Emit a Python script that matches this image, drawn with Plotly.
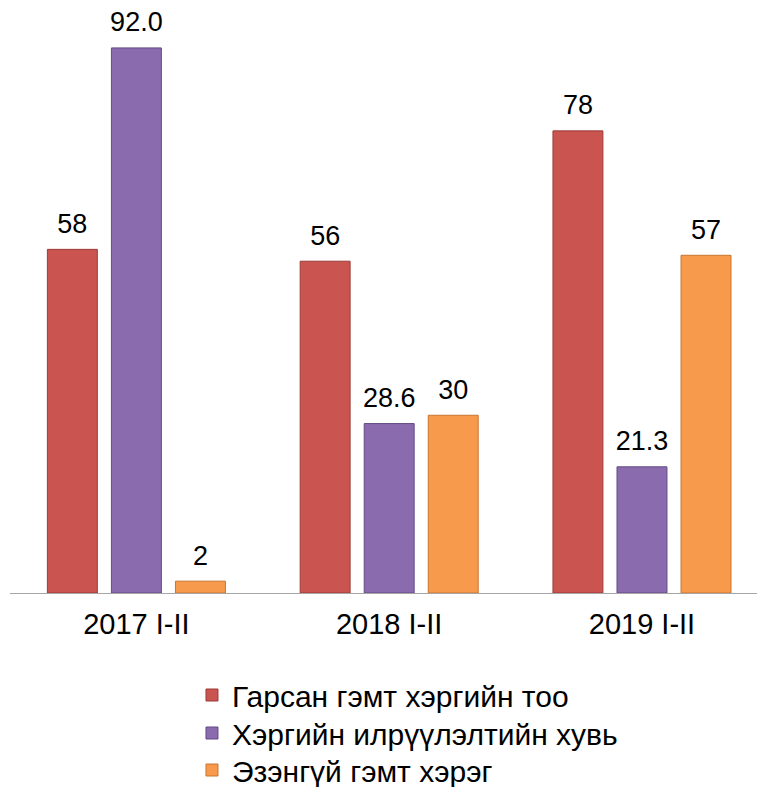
import plotly.graph_objects as go

categories = ["2017 I-II", "2018 I-II", "2019 I-II"]
series_names = ["Гарсан гэмт хэргийн тоо", "Хэргийн илрүүлэлтийн хувь", "Эзэнгүй гэмт хэрэг"]
crimes = [58, 56, 78]
detection = [92.0, 28.6, 21.3]
unowned = [2, 30, 57]
labels_crimes = ["58", "56", "78"]
labels_detection = ["92.0", "28.6", "21.3"]
labels_unowned = ["2", "30", "57"]

colors = ["#C95450", "#8A6BAE", "#F79A4C"]
edge = ["#9E3B38", "#644B84", "#C8752F"]
legend_ids = ["legend", "legend2", "legend3"]
legend_centers_px = [695, 733, 770]

fig = go.Figure()
for i, (name, vals, labs, c, e) in enumerate(zip(series_names,
                                  [crimes, detection, unowned],
                                  [labels_crimes, labels_detection, labels_unowned],
                                  colors, edge)):
    fig.add_trace(go.Bar(
        x=categories, y=vals, name=name, legend=legend_ids[i],
        offsetgroup=str(i), alignmentgroup="g",
        marker=dict(color=c, line=dict(color=e, width=1)),
    ))
    fig.add_trace(go.Scatter(
        x=categories, y=vals, text=labs, mode="markers+text",
        textposition="top center", cliponaxis=False, showlegend=False,
        offsetgroup=str(i), alignmentgroup="g", hoverinfo="skip",
        marker=dict(size=14, opacity=0),
        textfont=dict(size=27, color="black", family="Liberation Sans, Arial"),
    ))

H = 787
legend_common = dict(
    orientation="v", xref="container", yref="container",
    x=0.2536, xanchor="left", yanchor="middle",
    bgcolor="rgba(0,0,0,0)",
    font=dict(size=30, color="black"), itemwidth=30,
)
fig.update_layout(
    width=757, height=H,
    margin=dict(l=10, r=0, t=10, b=194, autoexpand=False),
    paper_bgcolor="white", plot_bgcolor="white",
    barmode="group", bargap=0.24, bargroupgap=0.22,
    scattermode="group", scattergap=0.24,
    font=dict(family="Liberation Sans, Arial", size=28, color="black"),
    showlegend=True,
    legend=dict(legend_common, y=1 - legend_centers_px[0] / H),
    legend2=dict(legend_common, y=1 - legend_centers_px[1] / H),
    legend3=dict(legend_common, y=1 - legend_centers_px[2] / H),
)
fig.update_xaxes(range=[-0.5, 2.455], showgrid=False, showline=True,
                 linecolor="#A6A6A6", linewidth=1, ticks="", tickangle=0,
                 tickfont=dict(size=29), ticklabelstandoff=5)
fig.update_yaxes(range=[0, 98.4], visible=False, showgrid=False)

fig.write_html("out.html", config={"displayModeBar": False})

with open("out.html", encoding="utf-8") as f:
    html = f.read()
html = html.replace("<head>", "<head><style>html,body{margin:0;padding:0;}</style>", 1)
with open("out.html", "w", encoding="utf-8") as f:
    f.write(html)
